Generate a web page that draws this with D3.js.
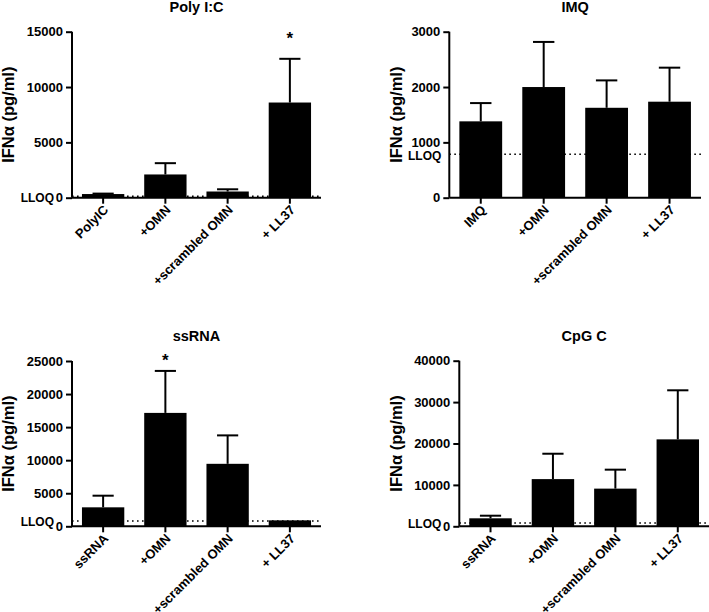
<!DOCTYPE html>
<html><head><meta charset="utf-8">
<script src="https://cdn.jsdelivr.net/npm/d3@7"></script>
<style>
body{margin:0;background:#fff;}
svg{display:block;font-family:"Liberation Sans",Arial,sans-serif;font-weight:bold;}
.ytick text{font-size:13px;font-weight:bold;font-family:"Liberation Sans",Arial,sans-serif;}
</style></head>
<body><svg id="chart" width="709" height="612"></svg>
<script>
// ---------- data ----------
const polyCategories  = ["PolyIC","+OMN","+scrambled OMN","+ LL37"];
const polyMeans       = [330, 2100, 560, 8600];
const polySEM         = [40, 1020, 200, 3950];
const polyTicks       = [0, 5000, 10000, 15000];
const polyLLOQ        = 125;
const polyStars       = [{cat:"+ LL37", y:14700}];

const imqCategories   = ["IMQ","+OMN","+scrambled OMN","+ LL37"];
const imqMeans        = [1380, 2000, 1625, 1735];
const imqSEM          = [330, 815, 495, 615];
const imqTicks        = [0, 1000, 2000, 3000];
const imqLLOQ         = 785;
const imqStars        = [];

const ssrnaCategories = ["ssRNA","+OMN","+scrambled OMN","+ LL37"];
const ssrnaMeans      = [2870, 17150, 9450, 900];
const ssrnaSEM        = [1760, 6350, 4300, 0];
const ssrnaTicks      = [0, 5000, 10000, 15000, 20000, 25000];
const ssrnaLLOQ       = 800;
const ssrnaStars      = [{cat:"+OMN", y:25650}];

const cpgCategories   = ["ssRNA","+OMN","+scrambled OMN","+ LL37"];
const cpgMeans        = [1930, 11400, 9100, 21000];
const cpgSEM          = [630, 6130, 4580, 11850];
const cpgTicks        = [0, 10000, 20000, 30000, 40000];
const cpgLLOQ         = 800;
const cpgStars        = [];

const yLabel = "IFN\u03B1 (pg/ml)";

// ---------- layout ----------
const panels = [
  {title:"Poly I:C", cats:polyCategories, means:polyMeans, sem:polySEM, ticks:polyTicks, lloq:polyLLOQ, stars:polyStars,
   x0:72, x1:321, yTop:31.7, yBot:197.7, ylabX:14},
  {title:"IMQ", cats:imqCategories, means:imqMeans, sem:imqSEM, ticks:imqTicks, lloq:imqLLOQ, stars:imqStars,
   x0:449.3, x1:701, yTop:31.7, yBot:197.7, ylabX:401.5},
  {title:"ssRNA", cats:ssrnaCategories, means:ssrnaMeans, sem:ssrnaSEM, ticks:ssrnaTicks, lloq:ssrnaLLOQ, stars:ssrnaStars,
   x0:72, x1:321, yTop:361, yBot:526.3, ylabX:14},
  {title:"CpG C", cats:cpgCategories, means:cpgMeans, sem:cpgSEM, ticks:cpgTicks, lloq:cpgLLOQ, stars:cpgStars,
   x0:459.3, x1:709, yTop:360.7, yBot:526.3, ylabX:401.5}
];

const svg = d3.select("#chart");

panels.forEach(p => {
  const g = svg.append("g");
  const x = d3.scaleBand().domain(p.cats).range([p.x0, p.x1]).paddingInner(0.32).paddingOuter(0.16);
  const y = d3.scaleLinear().domain([0, d3.max(p.ticks)]).range([p.yBot, p.yTop]);

  // LLOQ dotted line (behind bars)
  g.append("line")
    .attr("x1", p.x0).attr("x2", p.x1)
    .attr("y1", y(p.lloq)).attr("y2", y(p.lloq))
    .attr("stroke", "#000").attr("stroke-width", 1.6)
    .attr("stroke-dasharray", "1.6,3.4");

  const data = p.cats.map((c,i) => ({c, m:p.means[i], s:p.sem[i]}));

  // error bars (upper only)
  const eb = g.selectAll(".eb").data(data).enter().append("g");
  eb.append("line")
    .attr("x1", d => x(d.c) + x.bandwidth()/2).attr("x2", d => x(d.c) + x.bandwidth()/2)
    .attr("y1", d => y(d.m)).attr("y2", d => y(d.m + d.s))
    .attr("stroke", "#000").attr("stroke-width", 2);
  eb.append("line")
    .attr("x1", d => x(d.c) + x.bandwidth()/4).attr("x2", d => x(d.c) + 3*x.bandwidth()/4)
    .attr("y1", d => y(d.m + d.s)).attr("y2", d => y(d.m + d.s))
    .attr("stroke", "#000").attr("stroke-width", 2)
    .attr("display", d => d.s > 0 ? null : "none");

  // bars
  g.selectAll(".bar").data(data).enter().append("rect")
    .attr("x", d => x(d.c)).attr("width", x.bandwidth())
    .attr("y", d => y(d.m)).attr("height", d => y(0) - y(d.m))
    .attr("fill", "#000");

  // y axis
  const ya = g.append("g").attr("class", "ytick").attr("transform", `translate(${p.x0},0)`)
    .call(d3.axisLeft(y).tickValues(p.ticks).tickSize(6).tickPadding(3).tickFormat(d3.format("d")));
  ya.select(".domain").attr("stroke-width", 2).attr("d", `M0,${p.yBot}V${p.yTop}`);
  ya.selectAll(".tick line").attr("stroke-width", 2);

  // x axis
  const xa = g.append("g").attr("transform", `translate(0,${p.yBot})`)
    .call(d3.axisBottom(x).tickSize(6).tickFormat(""));
  xa.select(".domain").attr("stroke-width", 2).attr("d", `M${p.x0},0H${p.x1}`);
  xa.selectAll(".tick line").attr("stroke-width", 2);

  // category labels
  g.selectAll(".cl").data(p.cats).enter().append("text")
    .attr("transform", d => `translate(${x(d) + x.bandwidth()/2 + 6},${p.yBot + 13}) rotate(-45)`)
    .attr("text-anchor", "end").style("font-size", "13px").text(d => d);

  // LLOQ label
  const yl = y(p.lloq);
  const nearZero = Math.abs(y(0) - yl) < 10;
  g.append("text")
    .attr("x", nearZero ? p.x0 - 18 : p.x0 - 8)
    .attr("y", yl).attr("dy", "0.45em")
    .attr("text-anchor", "end").style("font-size", "12px").text("LLOQ");

  // title
  g.append("text")
    .attr("x", (p.x0 + p.x1)/2).attr("y", p.yTop - 20)
    .attr("text-anchor", "middle").style("font-size", "14.5px").text(p.title);

  // y label
  g.append("text")
    .attr("transform", `translate(${p.ylabX},${(p.yTop + p.yBot)/2}) rotate(-90)`)
    .attr("text-anchor", "middle").style("font-size", "16.5px").text(yLabel);

  // significance stars
  g.selectAll(".star").data(p.stars).enter().append("text")
    .attr("x", d => x(d.cat) + x.bandwidth()/2).attr("y", d => y(d.y)).attr("dy", "0.55em")
    .attr("text-anchor", "middle").style("font-size", "17px").text("*");
});
</script></body></html>
